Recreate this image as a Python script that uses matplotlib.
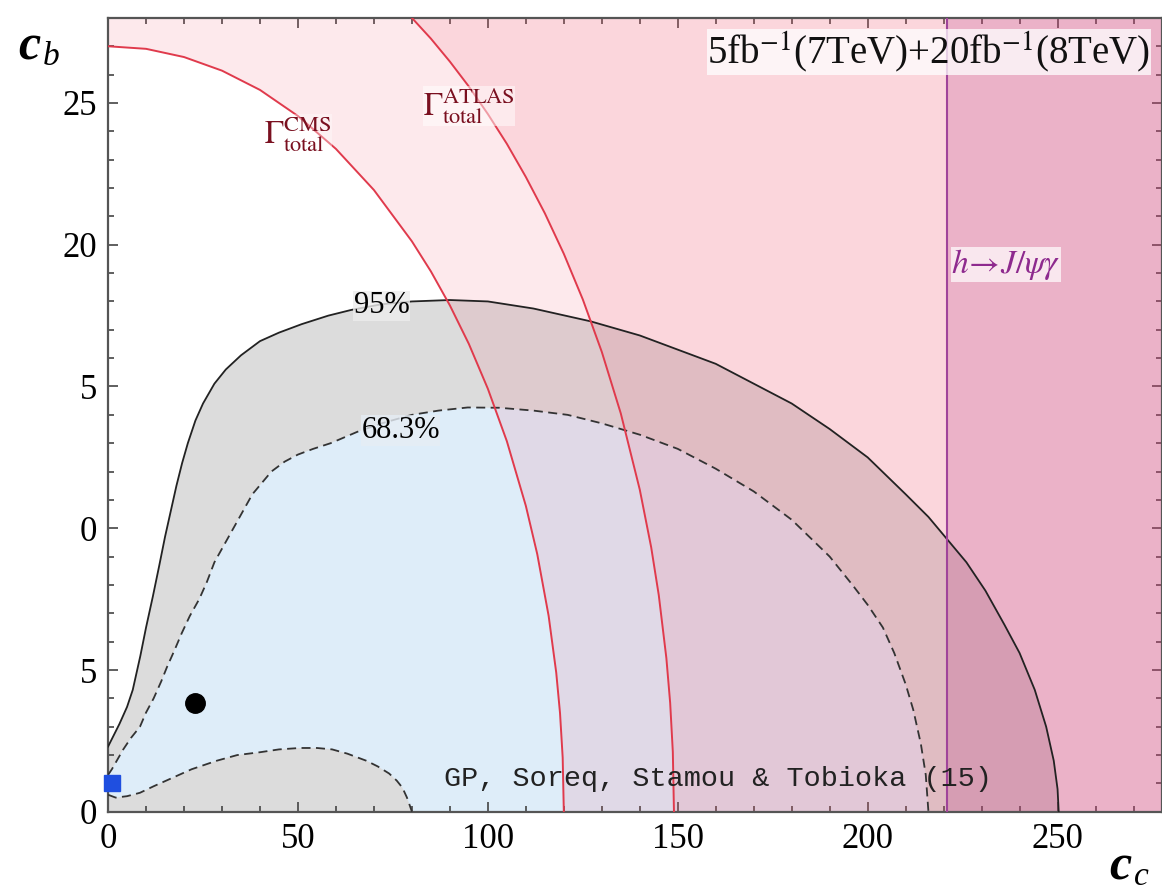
import numpy as np
import matplotlib
matplotlib.use('Agg')
import matplotlib.pyplot as plt

plt.rcParams['mathtext.fontset'] = 'stix'
plt.rcParams['font.family'] = ['Liberation Serif', 'DejaVu Serif']

# 95% CL contour (solid)
c95_cc = [0, 1.5, 3, 5, 6.5, 8.5, 10, 11.8, 13.5, 15, 16.5, 18, 19.5, 21, 23, 25, 28,
          31, 35, 40, 45, 51, 58, 64, 72, 80, 90, 100, 112, 127, 140, 150, 160, 170,
          180, 190, 200, 210, 216, 221, 226, 231, 236, 240, 244, 247, 249, 250, 250.3]
c95_cb = [2.3, 2.7, 3.1, 3.7, 4.3, 5.5, 6.5, 7.6, 8.7, 9.7, 10.6, 11.5, 12.3, 13.0,
          13.8, 14.4, 15.1, 15.6, 16.1, 16.6, 16.9, 17.2, 17.5, 17.7, 17.9, 18.0, 18.05,
          18.0, 17.75, 17.3, 16.8, 16.3, 15.8, 15.1, 14.4, 13.5, 12.5, 11.2, 10.4, 9.6,
          8.8, 7.8, 6.6, 5.6, 4.3, 3.0, 1.8, 0.8, 0]

# 68.3% CL contour (dashed), upper and lower branch
c68_up_cc = [0, 1, 2.5, 4, 6, 8.4, 10, 12, 14, 15.5, 17.5, 19.4, 21.5, 24, 26, 28,
             30.5, 33, 35.5, 38, 40.5, 43, 46.5, 50, 54, 58.6, 65.6, 72, 80, 87, 94.7,
             103, 112, 121, 130, 140, 150, 160, 170, 180, 190, 196, 200, 204, 207, 210,
             212, 214, 215.3, 216]
c68_up_cb = [1.3, 1.5, 1.85, 2.2, 2.6, 3.0, 3.5, 4.0, 4.6, 5.1, 5.7, 6.3, 6.9, 7.5,
             8.1, 8.8, 9.4, 10.0, 10.6, 11.2, 11.6, 12.0, 12.35, 12.6, 12.8, 13.0, 13.4,
             13.7, 14.0, 14.15, 14.26, 14.25, 14.15, 14.0, 13.7, 13.3, 12.8, 12.1, 11.3,
             10.3, 9.0, 8.0, 7.3, 6.5, 5.6, 4.5, 3.6, 2.4, 1.3, 0]
c68_lo_cc = [0, 2, 5, 8.4, 12, 17, 22, 28.6, 34, 40, 45, 50.5, 55, 59, 63, 68, 71, 74,
             76, 77.5, 78.7, 79.5, 80]
c68_lo_cb = [0.6, 0.5, 0.55, 0.67, 0.9, 1.2, 1.5, 1.8, 2.0, 2.1, 2.2, 2.25, 2.25, 2.2,
             2.05, 1.8, 1.6, 1.35, 1.1, 0.85, 0.5, 0.2, 0]

# total width bounds
cms_cc = [0, 10, 20, 30, 40, 50, 60, 70, 80, 85, 90, 95, 100, 105, 110, 113, 116, 118,
          119, 119.7, 120]
cms_cb = [27, 26.91, 26.62, 26.14, 25.46, 24.54, 23.38, 21.93, 20.12, 19.06, 17.86,
          16.50, 14.92, 13.07, 10.79, 9.09, 6.91, 4.91, 3.48, 1.91, 0]
atlas_cc = [80, 85, 90, 95, 100, 105, 110, 115, 120, 125, 130, 135, 140, 143, 145, 147,
            148, 148.7, 149]
atlas_cb = [28.0, 27.27, 26.46, 25.58, 24.61, 23.56, 22.39, 21.11, 19.68, 18.07, 16.22,
            14.05, 11.36, 9.33, 7.64, 5.42, 3.84, 2.11, 0]

jpsi_cc = 221
best_fit = (23, 3.85)
sm_point = (1, 1)

xticks = [0, 50, 100, 150, 200, 250]
yticks = [0, 5, 10, 15, 20, 25]
yticklabels = ['0', '5', '0', '5', '20', '25']

XMAX, YMAX = 277.5, 28

fig = plt.figure(figsize=(11.62, 8.96), dpi=100)
ax = fig.add_axes([0.093, 0.094, 0.907, 0.886])
ax.set_xlim(0, XMAX)
ax.set_ylim(0, YMAX)

# filled likelihood regions
ax.fill(c95_cc + [0], c95_cb + [0], color='#dcdcdc', lw=0, zorder=1)
blue_cc = c68_up_cc + [80] + c68_lo_cc[::-1]
blue_cb = c68_up_cb + [0] + c68_lo_cb[::-1]
ax.fill(blue_cc, blue_cb, color='#deedf9', lw=0, zorder=1.1)

ax.plot(c95_cc, c95_cb, color='#222222', lw=1.3, zorder=3)
ax.plot(c68_up_cc, c68_up_cb, color='#333333', lw=1.3, ls=(0, (5, 3)), zorder=3)
ax.plot(c68_lo_cc, c68_lo_cb, color='#333333', lw=1.3, ls=(0, (5, 3)), zorder=3)

# excluded by total width
ax.fill(cms_cc + [XMAX, XMAX, 0], cms_cb + [0, YMAX, YMAX], color='#f25a72',
        alpha=0.13, lw=0, zorder=2)
ax.fill(atlas_cc + [XMAX, XMAX], atlas_cb + [0, YMAX], color='#f25a72',
        alpha=0.13, lw=0, zorder=2)
ax.plot(cms_cc, cms_cb, color='#e03a4c', lw=1.4, zorder=4)
ax.plot(atlas_cc, atlas_cb, color='#e03a4c', lw=1.4, zorder=4)

# h -> J/psi gamma
ax.axvspan(jpsi_cc, XMAX, color='#b43282', alpha=0.22, lw=0, zorder=2.5)
ax.axvline(jpsi_cc, color='#a0449a', lw=1.5, zorder=4)

ax.plot(*best_fit, 'o', color='black', ms=14, zorder=6)
ax.plot(*sm_point, 's', color='#1f4fe0', ms=11, zorder=6, clip_on=False)

ax.text(72, 17.85, '95%', fontsize=22, ha='center', va='center', zorder=5,
        bbox=dict(fc=(0.93, 0.93, 0.93, 0.8), ec='none', pad=0.5))
ax.text(77, 13.45, '68.3%', fontsize=22, ha='center', va='center', zorder=5,
        bbox=dict(fc=(0.9, 0.93, 0.96, 0.8), ec='none', pad=0.5))
ax.text(50, 23.9, r'$\Gamma^{\rm CMS}_{\rm total}$', fontsize=23, color='#7a1020',
        ha='center', va='center', zorder=5,
        bbox=dict(fc=(1, 1, 1, 0.35), ec='none', pad=0.3))
ax.text(95, 24.9, r'$\Gamma^{\rm ATLAS}_{\rm total}$', fontsize=23, color='#7a1020',
        ha='center', va='center', zorder=5,
        bbox=dict(fc=(1, 1, 1, 0.5), ec='none', pad=0.3))
ax.text(222, 19.3, r'$h\!\rightarrow\! J/\psi\gamma$', fontsize=24, color='#8e2a8e',
        ha='left', va='center', zorder=5,
        bbox=dict(fc=(1, 1, 1, 0.7), ec='none', pad=0.2))
ax.text(274.4, 26.8, r'5fb$^{-1}$(7TeV)+20fb$^{-1}$(8TeV)', fontsize=28,
        color='#111111', ha='right', va='center', zorder=5,
        bbox=dict(fc=(1, 1, 1, 0.75), ec='none', pad=0.15))
ax.text(88.5, 1.15, 'GP, Soreq, Stamou & Tobioka (15)', fontsize=20.5,
        family='Liberation Mono', color='#222222', ha='left', va='center', zorder=5)

ax.set_xticks(xticks)
ax.set_xticks(np.arange(0, XMAX, 10), minor=True)
ax.set_yticks(yticks)
ax.set_yticklabels(yticklabels)
ax.set_yticks(np.arange(0, YMAX + 1, 1), minor=True)
ax.tick_params(which='both', direction='in', top=True, right=True, labelsize=25,
               color='#444444', width=1.2)
ax.tick_params(which='major', length=7, pad=8)
ax.tick_params(which='minor', length=4)
for sp in ax.spines.values():
    sp.set_color('#555555')
    sp.set_linewidth(1.6)

fig.text(0.016, 0.947, 'c', fontsize=36, style='italic', weight='bold', va='center')
fig.text(0.037, 0.937, 'b', fontsize=24, style='italic', va='center')
fig.text(0.955, 0.032, 'c', fontsize=36, style='italic', weight='bold', va='center')
fig.text(0.976, 0.022, 'c', fontsize=24, style='italic', va='center')

fig.savefig('out.png', dpi=100)
